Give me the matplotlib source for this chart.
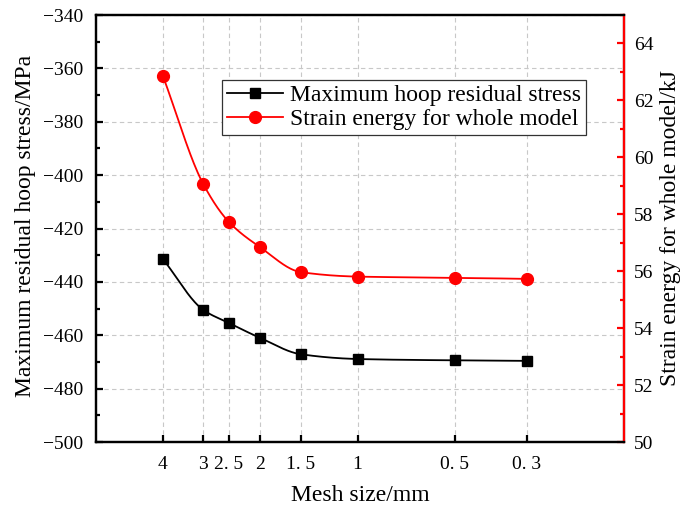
import numpy as np
import matplotlib
matplotlib.use("Agg")
import matplotlib.pyplot as plt
from matplotlib.ticker import MultipleLocator, FixedLocator, NullLocator

plt.rcParams['font.family'] = ['Liberation Serif', 'DejaVu Serif']

mesh_size = [4, 3, 2.5, 2, 1.5, 1, 0.5, 0.3]
mesh_labels = ["4", "3", "2. 5", "2", "1. 5", "1", "0. 5", "0. 3"]
hoop_stress = [-431.4, -450.5, -455.4, -461.0, -467.1, -468.9, -469.4, -469.6]
strain_energy = [62.86, 59.06, 57.73, 56.84, 55.97, 55.81, 55.77, 55.73]


def pchip(x, y, xs):
    x = np.asarray(x, float); y = np.asarray(y, float)
    h = np.diff(x)
    d = np.diff(y) / h
    n = len(x)
    m = np.zeros(n)
    m[0] = d[0]; m[-1] = d[-1]
    for i in range(1, n - 1):
        if d[i - 1] * d[i] <= 0:
            m[i] = 0
        else:
            w1 = 2 * h[i] + h[i - 1]
            w2 = h[i] + 2 * h[i - 1]
            m[i] = (w1 + w2) / (w1 / d[i - 1] + w2 / d[i])
    out = np.empty_like(xs)
    for k, xv in enumerate(xs):
        i = int(np.clip(np.searchsorted(x, xv) - 1, 0, n - 2))
        t = (xv - x[i]) / h[i]
        h00 = 2 * t**3 - 3 * t**2 + 1
        h10 = t**3 - 2 * t**2 + t
        h01 = -2 * t**3 + 3 * t**2
        h11 = t**3 - t**2
        out[k] = h00 * y[i] + h10 * h[i] * m[i] + h01 * y[i + 1] + h11 * h[i] * m[i + 1]
    return out

u = -np.log10(mesh_size)
us = np.linspace(u.min(), u.max(), 400)
xs = 10 ** (-us)
hoop_s = pchip(u, hoop_stress, us)
energy_s = pchip(u, strain_energy, us)

fig = plt.figure(figsize=(6.88, 5.11), dpi=100)
ax = fig.add_axes([96 / 688, 69 / 511, (624 - 96) / 688, (442 - 15) / 511])
ax2 = ax.twinx()

ax.set_xscale('log')
ax.set_xlim(6.44, 0.15)
ax.set_ylim(-500, -340)
ax2.set_ylim(50, 65)

ax.xaxis.set_major_locator(FixedLocator(mesh_size))
ax.xaxis.set_minor_locator(NullLocator())
ax.set_xticklabels(mesh_labels)
ax.yaxis.set_major_locator(MultipleLocator(20))
ax.yaxis.set_minor_locator(MultipleLocator(10))
ax2.yaxis.set_major_locator(MultipleLocator(2))
ax2.yaxis.set_minor_locator(MultipleLocator(1))

ax.grid(True, which='major', linestyle=(0, (4, 3)), color='#c8c8c8', linewidth=0.8)
ax.set_axisbelow(True)

ax.plot(xs, hoop_s, color='black', linewidth=1.3, zorder=3)
ax.plot(mesh_size, hoop_stress, linestyle='none', marker='s', color='black', markersize=7, zorder=4)
ax2.plot(xs, energy_s, color='#ff0000', linewidth=1.3, zorder=3)
ax2.plot(mesh_size, strain_energy, linestyle='none', marker='o', color='#ff0000', markersize=8.5, zorder=4)

for a in (ax, ax2):
    for s in a.spines.values():
        s.set_linewidth(1.6)
ax2.spines['right'].set_color('#ff0000')
ax.tick_params(axis='both', which='major', direction='in', length=5, width=1.6, labelsize=14)
ax.tick_params(axis='y', which='major', pad=9)
ax.tick_params(axis='x', which='major', pad=10)
ax.tick_params(axis='y', which='minor', direction='in', length=3, width=1.6)
ax2.tick_params(axis='y', which='major', direction='in', length=5, width=1.6, color='#ff0000', labelsize=14, pad=7)
ax2.tick_params(axis='y', which='minor', direction='in', length=3, width=1.6, color='#ff0000')

ax.set_xlabel('Mesh size/mm', fontsize=17)
ax.xaxis.set_label_coords((360 - 96) / (624 - 96), (442 - 485) / (442 - 15))
ax.set_ylabel('Maximum residual hoop stress/MPa', fontsize=17)
ax.yaxis.set_label_coords((36 - 96) / (624 - 96), (442 - 226) / (442 - 15))
ax2.set_ylabel('Strain energy for whole model/kJ', fontsize=17)
ax2.yaxis.set_label_coords((660 - 96) / (624 - 96), (442 - 228) / (442 - 15))

h1 = plt.Line2D([], [], color='black', marker='s', markersize=7, linewidth=1.3)
h2 = plt.Line2D([], [], color='#ff0000', marker='o', markersize=8.5, linewidth=1.3)
leg = ax2.legend([h1, h2], ['Maximum hoop residual stress', 'Strain energy for whole model'],
                 loc='upper left', bbox_to_anchor=(222 / 688, 1 - 80 / 511),
                 bbox_transform=fig.transFigure, fontsize=17, fancybox=False,
                 framealpha=1, edgecolor='#333333', handlelength=2.4,
                 borderpad=0.2, labelspacing=0.1, handletextpad=0.3, borderaxespad=0)
leg.get_frame().set_linewidth(0.9)

fig.savefig('out.png', dpi=100)
